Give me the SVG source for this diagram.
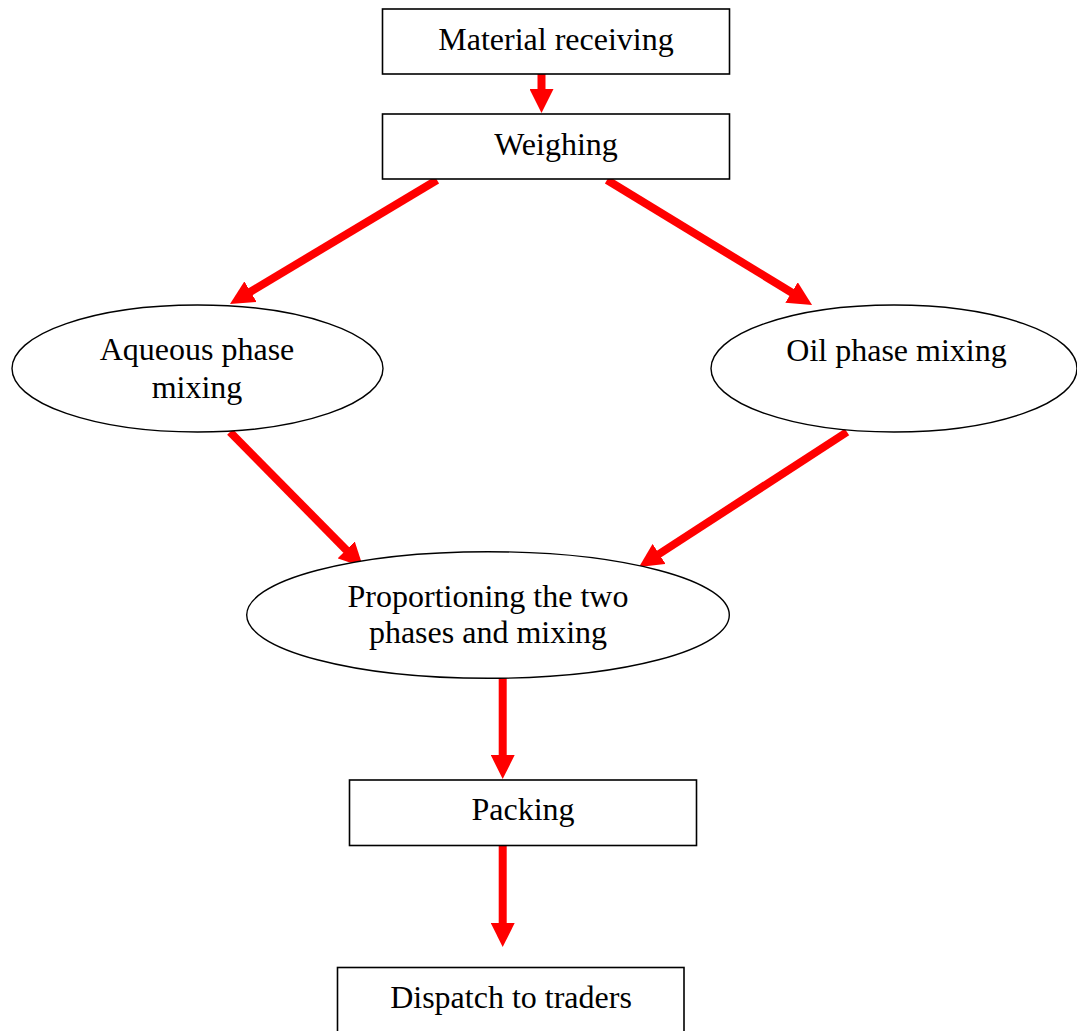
<svg xmlns="http://www.w3.org/2000/svg" width="1077" height="1031" viewBox="0 0 1077 1031">
  <style>
    .box { fill: #ffffff; stroke: #000000; stroke-width: 1.6; }
    .oval { fill: #ffffff; stroke: #000000; stroke-width: 1.4; }
    .label { font-family: "Liberation Serif", "Times New Roman", serif; font-size: 32px; fill: #000000; text-anchor: middle; }
    .flow { stroke: #ff0000; stroke-width: 8; fill: none; marker-end: url(#head); }
  </style>
  <defs>
    <marker id="head" markerUnits="userSpaceOnUse" markerWidth="24" markerHeight="24" viewBox="0 0 24 24" refX="1" refY="12" orient="auto">
      <path d="M0,0 L24,12 L0,24 z" fill="#ff0000"/>
    </marker>
  </defs>
  <rect width="1077" height="1031" fill="#ffffff"/>

  <g id="connectors">
    <line class="flow" x1="541.5" y1="74" x2="541.5" y2="90"/>
    <line class="flow" x1="437" y1="180" x2="249.7" y2="292.2"/>
    <line class="flow" x1="607" y1="180" x2="792.4" y2="293"/>
    <line class="flow" x1="230" y1="432" x2="346.9" y2="550.6"/>
    <line class="flow" x1="847" y1="432" x2="658.3" y2="554.5"/>
    <line class="flow" x1="502.7" y1="678" x2="502.7" y2="756"/>
    <line class="flow" x1="502.7" y1="846" x2="502.7" y2="924"/>
  </g>

  <g id="material-receiving">
    <rect class="box" x="382.5" y="9" width="347" height="65"/>
    <text class="label" x="556" y="50">Material receiving</text>
  </g>

  <g id="weighing">
    <rect class="box" x="382.5" y="114" width="347" height="65"/>
    <text class="label" x="556" y="155">Weighing</text>
  </g>

  <g id="aqueous-phase">
    <ellipse class="oval" cx="197.5" cy="368.5" rx="185.5" ry="63.5"/>
    <text class="label" x="197" y="360">Aqueous phase</text>
    <text class="label" x="197" y="398">mixing</text>
  </g>

  <g id="oil-phase">
    <ellipse class="oval" cx="894" cy="368.5" rx="183" ry="63.5"/>
    <text class="label" x="896.5" y="361">Oil phase mixing</text>
  </g>

  <g id="proportioning">
    <ellipse class="oval" cx="488" cy="615" rx="241.3" ry="63.3"/>
    <text class="label" x="488" y="607">Proportioning the two</text>
    <text class="label" x="488" y="643">phases and mixing</text>
  </g>

  <g id="packing">
    <rect class="box" x="349.5" y="780" width="347" height="65.5"/>
    <text class="label" x="523" y="820">Packing</text>
  </g>

  <g id="dispatch">
    <rect class="box" x="337.5" y="967.5" width="346.5" height="70"/>
    <text class="label" x="511" y="1008">Dispatch to traders</text>
  </g>
</svg>
